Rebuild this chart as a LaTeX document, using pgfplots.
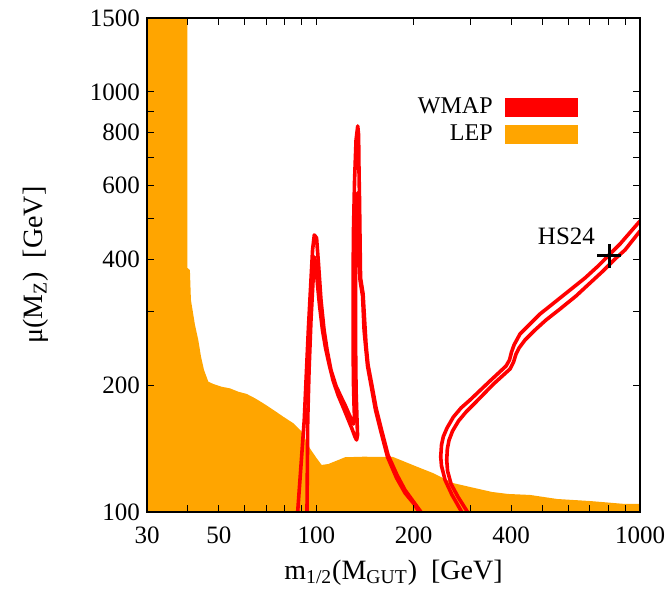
\documentclass[border=0pt]{standalone}
\usepackage{fontspec}
\setmainfont{Liberation Serif}
\usepackage{pgfplots}
\pgfplotsset{compat=1.18}
\definecolor{wmap}{RGB}{255,0,0}
\definecolor{lep}{RGB}{255,165,0}

\begin{document}
\begin{tikzpicture}
\begin{axis}[
  name=main,
  xmode=log, ymode=log,
  width=246.5pt, height=247pt, scale only axis,
  xmin=30, xmax=1000, ymin=100, ymax=1500,
  xtick={30,50,100,200,400,1000},
  xticklabels={30,50,100,200,400,1000},
  minor xtick={40,60,70,80,90,300,500,600,700,800,900},
  ytick={100,200,400,600,800,1000,1500},
  yticklabels={100,200,400,600,800,1000,1500},
  minor ytick={300,500,700,900},
  tick align=inside,
  major tick length=3.5pt, minor tick length=3.5pt,
  every tick/.style={black, line width=0.5pt},
  axis line style={line width=0.9pt},
  tick label style={font=\fontsize{12.5}{14}\selectfont},
  xticklabel style={yshift=-4pt},
  label style={font=\fontsize{14}{16}\selectfont},
  xlabel={m\textsubscript{1/2}(M\textsubscript{GUT})\ \ [GeV]},
  ylabel={μ(M\textsubscript{Z})\ \ [GeV]},
  xlabel shift=1pt,
  ylabel shift=14pt,
  axis on top,
  legend style={at={(rel axis cs:0.886,0.855)}, anchor=north east,
    draw=none, fill=none, font=\fontsize{12}{14}\selectfont},
  legend cell align=right,
  legend plot pos=right,
]

% LEP excluded region
\addplot[draw=none, fill=lep, forget plot] coordinates {
(30,100) (30,1500) (40.0,1500) (40.0,381) (40.7,376.7) (41.0,319.7) (42.2,278.8)
(43.2,256.8) (44.05,234.3) (45.0,217.8) (46.4,204.3) (48.1,201.7) (51.0,198.7)
(54.1,197.0) (57.4,193.4) (61.0,191.0) (64.7,186.5) (68.6,181.5) (73.7,175.0)
(79.1,168.6) (85.0,162.6) (90.2,155.3) (95.6,141.7) (100.3,134.2) (103.9,129.4)
(109.0,130.1) (115.6,132.5) (122.7,135.0) (139.8,135.4) (172.6,135.2) (209.2,127.3)
(229.4,123.8) (264.5,117.2) (298.5,114.7) (349.2,111.6) (391.1,110.4) (457.4,109.8)
(554.3,107.4) (701,106.2) (898.9,104.5) (1000,104.5) (1000,100)
};

% WMAP contours, left branch
\addplot[wmap, line width=1.8pt, line join=round, forget plot] coordinates {
(87.6,100) (91.8,165.6) (94.5,271.2) (96.3,356.8) (97.4,420.6) (98.6,456.6) (100.2,449.1)
(101.5,393.8) (103.4,319.7) (105.7,271.2) (108.0,243.1) (111.0,217.8) (115.1,199.5)
(119.3,187.9) (122.7,179.8) (126.2,171.1) (129.0,164.7) (130.3,162.0) (131.3,165.6)
(130.8,179.8) (130.2,206.2) (129.9,271.2) (129.9,356.8) (130.3,469.3) (131.3,617.3)
(132.7,768.6) (134.3,829.9) (135.1,790.0) (135.5,652.1) (136.0,553.2) (136.5,444.2)
(137.0,360.7) (139.5,330.4) (141.0,286.5) (142.5,249.8) (144.5,223.9) (148.1,202.8)
(153.0,176.9) (158.5,158.5) (166.6,136.7) (177.6,122.5) (188.0,112.8) (199.0,106.2)
(210.6,100)
};
\addplot[wmap, line width=1.8pt, line join=round, forget plot] coordinates {
(93.6,100) (94.1,165.6) (95.0,217.8) (96.3,286.5) (97.4,337.7) (98.1,376.9) (98.6,404.7)
(99.5,393.8) (100.9,347.1) (102.3,311.1) (104.5,271.2) (106.8,245.7) (109.5,225.1)
(112.6,206.2) (116.7,189.9) (121.0,177.8) (125.3,166.5) (129.0,157.6) (131.7,150.9)
(133.2,148.4) (134.1,152.5) (133.6,165.6) (132.7,195.2) (132.2,256.8) (132.2,337.7)
(132.7,444.2) (133.3,553.2) (134.1,574.8) (135.1,553.2) (135.8,444.2) (136.5,356.8)
(139.0,326.8) (140.5,271.2) (142.0,248.5) (144.0,222.6) (147.6,200.6) (152.4,174.9)
(157.9,156.8) (166.0,135.2) (177.0,120.5) (188.0,111.0) (200.5,104.5) (207.7,100)
};

% WMAP contours, right branch
\addplot[wmap, line width=1.8pt, line join=round, forget plot] coordinates {
(281.4,100) (262.6,109.8) (249.9,119.2) (243.7,128.7) (242.3,135.4) (243.7,144.4)
(246.8,151.1) (253.4,158.5) (265.1,168.3) (280.0,176.9) (298.5,184.8) (344.1,205.1)
(385.6,222.6) (395.3,230.1) (401.0,240.4) (408.2,249.8) (426.0,265.4) (457.4,280.3)
(491.1,296.1) (546.4,316.2) (608.0,337.7) (676.4,360.7) (736.7,383.1) (808.1,411.4)
(867.6,434.6) (1000,493.0)
};
\addplot[wmap, line width=1.8pt, line join=round, forget plot] coordinates {
(293.2,100) (274.1,108.6) (260.8,116.6) (254.4,125.2) (252.9,133.0) (254.0,141.3)
(257.1,148.3) (263.6,155.9) (275.0,164.7) (290.1,173.0) (309.3,181.8) (352.8,201.7)
(396.7,219.0) (406.8,227.6) (414.0,237.8) (423.0,245.7) (441.4,256.8) (473.9,271.2)
(512.5,286.5) (566.2,304.3) (634.4,326.8) (700.9,350.9) (768.8,374.8) (837.3,400.3)
(899.0,420.6) (1000,466.7)
};

% benchmark point
\addplot[only marks, mark=+, mark size=6pt, line width=1.5pt, black, forget plot]
  coordinates {(804,407)};
\node[anchor=base east, inner sep=0pt, xshift=-7pt, yshift=5.5pt,
  font=\fontsize{12.5}{14}\selectfont] at (axis cs:804,407) {HS24};

\addlegendimage{legend image code/.code={\path (0pt,0pt); \fill[wmap] (4pt,-4.5pt) rectangle (40pt,4.5pt);}}
\addlegendentry{WMAP}
\addlegendimage{legend image code/.code={\path (0pt,0pt); \fill[lep] (4pt,-4.5pt) rectangle (40pt,4.5pt);}}
\addlegendentry{LEP}
\end{axis}
\pgfresetboundingbox
\path (main.south west) ++(-73.5pt,-38pt) rectangle ([shift={(15.5pt,9pt)}]main.north east);
\end{tikzpicture}
\end{document}
